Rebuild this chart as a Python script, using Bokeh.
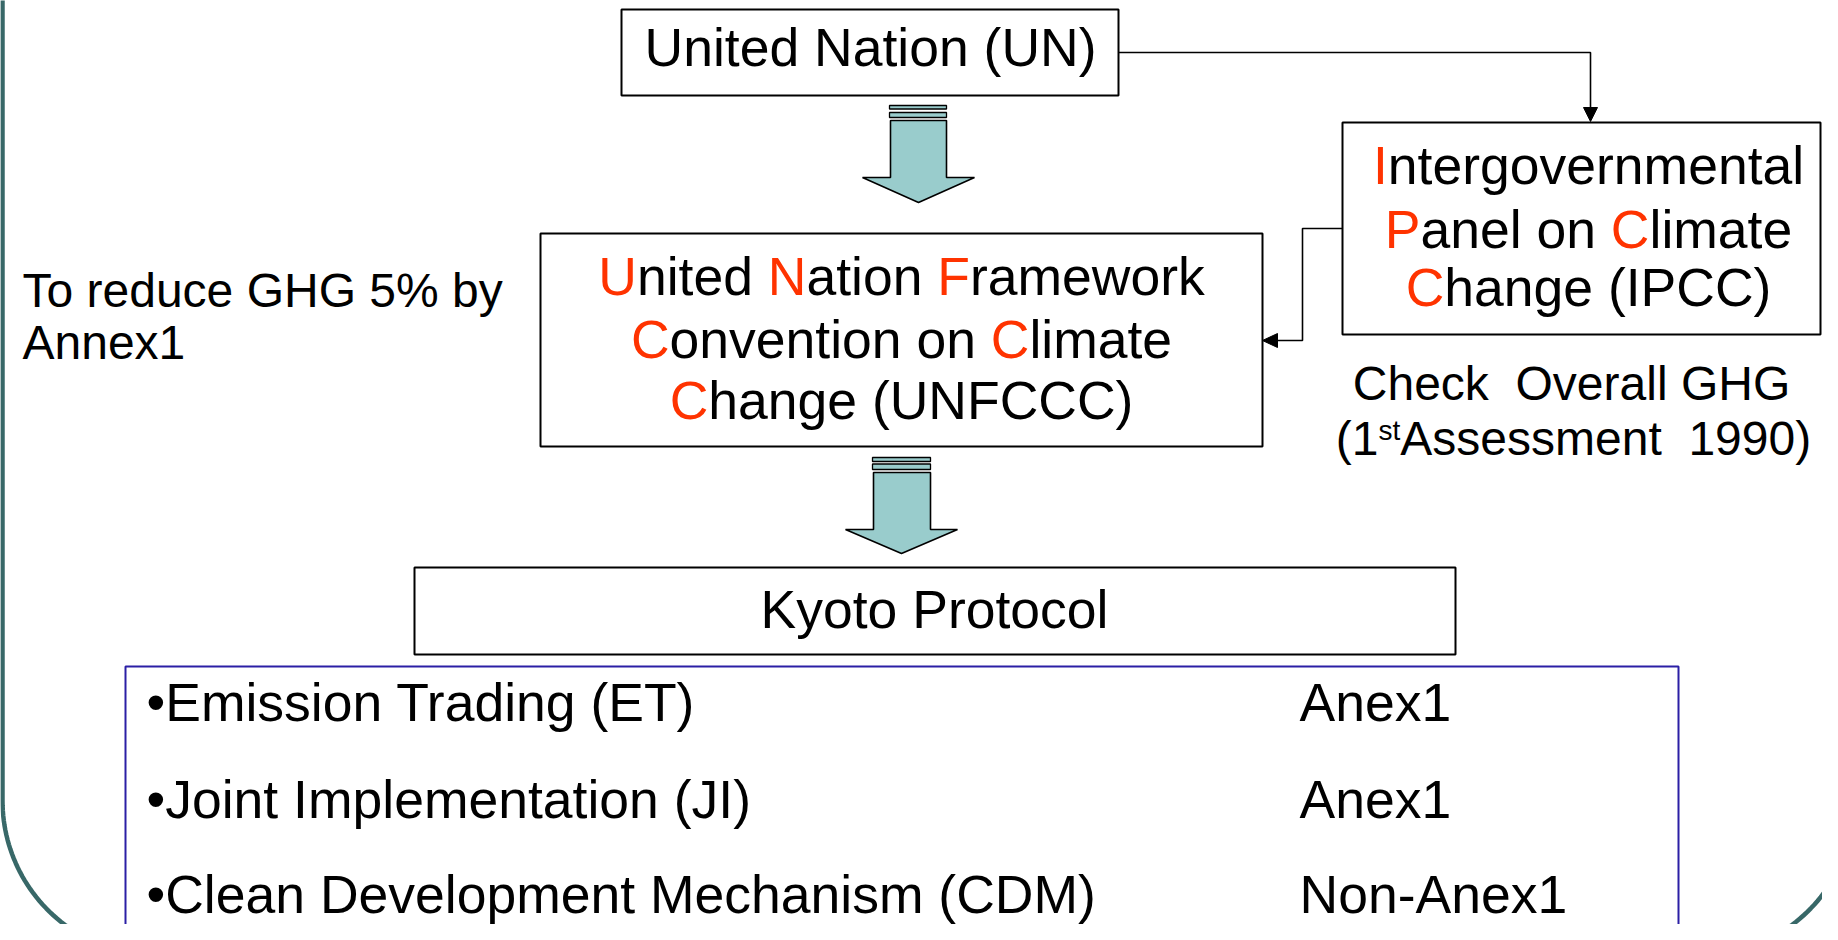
import numpy as np
from bokeh.plotting import figure
from bokeh.models import Range1d, ColumnDataSource
from bokeh.core.properties import value
from bokeh.embed import file_html
from bokeh.resources import INLINE

# ---------------- content ----------------
un_label = ["United Nation (UN)"]
unfccc_lines = ["[U]nited [N]ation [F]ramework", "[C]onvention on [C]limate", "[C]hange (UNFCCC)"]
ipcc_lines = ["[I]ntergovernmental", "[P]anel on [C]limate", "[C]hange (IPCC)"]
kyoto_label = ["Kyoto Protocol"]
goal_lines = ["To reduce GHG 5% by", "Annex1"]
check_line1 = ["Check", "  ", "Overall GHG"]
check_line2 = ["(1", "st", "Assessment", "  ", "1990)"]
mechanisms = ["\u2022Emission Trading (ET)", "\u2022Joint Implementation (JI)", "\u2022Clean Development Mechanism (CDM)"]
parties = ["Anex1", "Anex1", "Non-Anex1"]

# ---------------- styles ----------------
FONT = "Liberation Sans"
RED = "#ff3300"
BLACK = "#000000"
TEAL_FILL = "#99cccc"
FRAME = "#386868"
BLUE = "#2b1fa5"
BIG = 53.5
MID = 48
SUP = 28
BASE_K = 0.38   # baseline correction for the renderer, in em

# Arial / Liberation Sans advance widths (1/1000 em)
AW = {' ': 278, '(': 333, ')': 333, '%': 889, '-': 333, '.': 278, '\u2022': 350,
      'A': 667, 'B': 667, 'C': 722, 'D': 722, 'E': 667, 'F': 611, 'G': 778, 'H': 722, 'I': 278,
      'J': 500, 'K': 667, 'L': 556, 'M': 833, 'N': 722, 'O': 778, 'P': 667, 'Q': 778, 'R': 722,
      'S': 667, 'T': 611, 'U': 722, 'V': 667, 'W': 944, 'X': 667, 'Y': 667, 'Z': 611,
      'a': 556, 'b': 556, 'c': 500, 'd': 556, 'e': 556, 'f': 278, 'g': 556, 'h': 556, 'i': 222,
      'j': 222, 'k': 500, 'l': 222, 'm': 833, 'n': 556, 'o': 556, 'p': 556, 'q': 556, 'r': 333,
      's': 500, 't': 278, 'u': 556, 'v': 500, 'w': 722, 'x': 500, 'y': 500, 'z': 500}


def tw(s, size):
    return sum(AW.get(c, 556) for c in s) / 1000.0 * size


def parse_marked(line):
    runs, cur = [], ""
    for ch in line:
        if ch == "[":
            if cur:
                runs.append((cur, BLACK))
            cur = ""
        elif ch == "]":
            runs.append((cur, RED))
            cur = ""
        else:
            cur += ch
    if cur:
        runs.append((cur, BLACK))
    return runs


texts = {}


def _add(t, x, base, size, color):
    d_ = texts.setdefault(size, dict(x=[], y=[], text=[], color=[]))
    d_["x"].append(x)
    d_["y"].append(base - BASE_K * size)
    d_["text"].append(t)
    d_["color"].append(color)


def put_runs(runs, cx, base):
    """runs: list of (text, color, size, dy); centered at cx."""
    total = sum(tw(t, s) for t, c, s, d in runs)
    x = cx - total / 2.0
    for t, c, s, d in runs:
        if t.strip():
            lead = len(t) - len(t.lstrip(" "))
            _add(t.strip(), x + tw(t[:lead], s), base + d, s, c)
        x += tw(t, s)


def put_left(t, x, base, size, color=BLACK):
    _add(t, x, base, size, color)


# ---------------- layout (screen pixels) ----------------
boxes = [  # left, right, top, bottom, line color
    (621, 1118, 9, 95, BLACK),        # UN
    (540, 1262, 233, 446, BLACK),     # UNFCCC
    (1342, 1820, 122, 334, BLACK),    # IPCC
    (414, 1455, 567, 654, BLACK),     # Kyoto
    (125, 1678, 666, 990, BLUE),      # mechanisms
]

p = figure(width=1822, height=924, x_range=Range1d(0, 1822), y_range=Range1d(924, 0),
           output_backend="svg", toolbar_location=None, min_border=0,
           x_axis_type=None, y_axis_type=None, background_fill_color="white")
p.grid.visible = False
p.outline_line_color = None

# frame (rounded rectangle, partly off-page)
lc = (157, 800, 155)
rc = (1699, 800, 155)
th1 = np.linspace(np.pi, np.pi / 2, 50)
th2 = np.linspace(np.pi / 2, 0, 50)
fx = np.concatenate([[2], lc[0] + lc[2] * np.cos(th1), rc[0] + rc[2] * np.cos(th2), [rc[0] + rc[2]]])
fy = np.concatenate([[-20], lc[1] + lc[2] * np.sin(th1), rc[1] + rc[2] * np.sin(th2), [-20]])
p.line(fx, fy, line_color=FRAME, line_width=4.5)

# boxes
p.quad(left=[b[0] for b in boxes], right=[b[1] for b in boxes],
       top=[b[2] for b in boxes], bottom=[b[3] for b in boxes],
       fill_color="white", line_color=[b[4] for b in boxes], line_width=2)


# block arrows
def block_arrow(l, r, top, sb, hl, hr, tip, bars):
    cx = (hl + hr) / 2.0
    p.quad(left=[l - 1, l - 1], right=[r, r], top=[bars[0][0], bars[1][0]], bottom=[bars[0][1], bars[1][1]],
           fill_color=TEAL_FILL, line_color=BLACK, line_width=1.3)
    p.patch([l, r, r, hr, cx, hl, l], [top, top, sb, sb, tip, sb, sb],
            fill_color=TEAL_FILL, line_color=BLACK, line_width=1.6)


block_arrow(890, 946, 120, 177, 862, 974, 202, [(105, 108.5), (112, 117)])
block_arrow(873, 930, 472, 529, 845, 957, 553, [(457, 461), (463.5, 469)])

# connector lines
p.line([1118, 1590, 1590], [52, 52, 108], line_color=BLACK, line_width=1.6)
p.patch([1583, 1597, 1590], [107, 107, 121], fill_color=BLACK, line_color=BLACK, line_width=1)
p.line([1342, 1302, 1302, 1276], [228, 228, 340, 340], line_color=BLACK, line_width=1.6)
p.patch([1262, 1277, 1277], [340, 333, 347], fill_color=BLACK, line_color=BLACK, line_width=1)

# ---------------- texts ----------------
put_runs([(un_label[0], BLACK, BIG, 0)], 870, 67)
for line, base in zip(unfccc_lines, [296, 359, 420]):
    put_runs([(t, c, BIG, 0) for t, c in parse_marked(line)], 901, base)
for line, base in zip(ipcc_lines, [185, 249, 307]):
    put_runs([(t, c, BIG, 0) for t, c in parse_marked(line)], 1588, base)
put_runs([(kyoto_label[0], BLACK, BIG, 0)], 934, 629)

for t, base in zip(goal_lines, [308, 360]):
    put_left(t, 22, base, MID)

put_runs([(t, BLACK, MID, 0) for t in check_line1], 1571, 401)
put_runs([(check_line2[0], BLACK, MID, 0), (check_line2[1], BLACK, SUP, -15),
          (check_line2[2], BLACK, MID, 0), (check_line2[3], BLACK, MID, 0),
          (check_line2[4], BLACK, MID, 0)], 1573, 456)

for t, base in zip(mechanisms, [722, 819, 914]):
    put_left(t, 146, base, BIG)
for t, base in zip(parties, [722, 819, 914]):
    put_left(t, 1299, base, BIG)

for size, d_ in texts.items():
    src = ColumnDataSource(d_)
    p.text(x="x", y="y", text="text", text_color="color", source=src,
           text_font=value(FONT), text_font_size=f"{size}px",
           text_align="left", text_baseline="alphabetic")

open("out.html", "w").write(file_html(p, INLINE))
